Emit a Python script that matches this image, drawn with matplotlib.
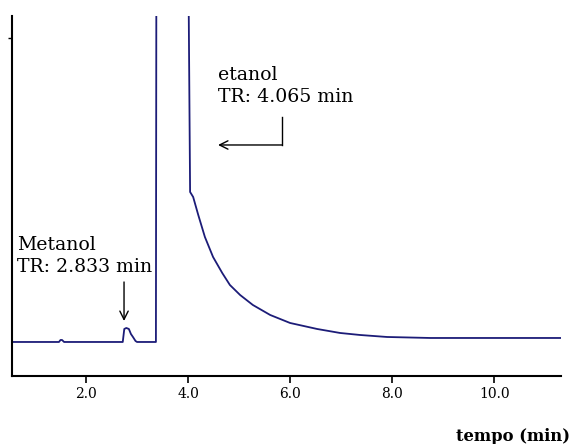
import matplotlib
matplotlib.use("Agg")
import matplotlib.pyplot as plt

# cromatograma: tempo (min) x sinal (unidades arbitrarias, linha de base = 0)
tempo = [0.55, 1.47, 1.50, 1.53, 1.57, 1.60, 2.72, 2.75, 2.79, 2.84, 2.88,
         2.92, 2.97, 3.00, 3.37, 3.38, 4.00, 4.04, 4.10, 4.20, 4.33, 4.49,
         4.67, 4.82, 5.02, 5.27, 5.61, 6.00, 6.53, 6.98, 7.37, 7.90, 8.75,
         11.31]
sinal = [0, 0, 2, 2, 0, 0, 0, 13, 14, 13, 8,
         5, 1, 0, 0, 420, 420, 150, 145, 127, 105, 85,
         69, 57, 47, 37, 27, 19, 13, 9, 7, 5, 4,
         4]

xticks = [2.0, 4.0, 6.0, 8.0, 10.0]
xlabels = ["2.0", "4.0", "6.0", "8.0", "10.0"]

plt.rcParams['font.family'] = ['DejaVu Serif']

fig = plt.figure(figsize=(5.71, 4.44), dpi=100)
ax = fig.add_axes([0.021, 0.1532, 0.9615, 0.8108])

ax.plot(tempo, sinal, color='#1c1c78', lw=1.3)

ax.set_xlim(0.549, 11.31)
ax.set_ylim(-34, 326)

ax.spines['top'].set_visible(False)
ax.spines['right'].set_visible(False)
ax.spines['left'].set_linewidth(1.5)
ax.spines['bottom'].set_linewidth(1.5)

ax.set_xticks(xticks)
ax.set_xticklabels(xlabels, fontsize=10)
ax.tick_params(axis='x', direction='out', length=5, width=1.2, pad=3)
ax.set_yticks([304])
ax.set_yticklabels([])
ax.tick_params(axis='y', direction='out', length=3, width=1)

# rotulos dos picos
ax.text(4.58, 256, "etanol\nTR: 4.065 min", fontsize=13.6, va='center',
        linespacing=1.25)
ax.plot([5.843, 5.843], [225, 197], color='black', lw=1)
ax.annotate("", xy=(4.588, 197), xytext=(5.843, 197),
            arrowprops=dict(arrowstyle='->', color='black', lw=1,
                            shrinkA=0, shrinkB=0, mutation_scale=15))

ax.text(0.64, 86, "Metanol\nTR: 2.833 min", fontsize=13.6, va='center',
        linespacing=1.25)
ax.annotate("", xy=(2.745, 21), xytext=(2.745, 60),
            arrowprops=dict(arrowstyle='->', color='black', lw=1,
                            shrinkA=0, shrinkB=0, mutation_scale=15))

fig.text(0.998, 0.016, "tempo (min)", ha='right', va='center',
         fontsize=11.8, fontweight='bold')

fig.savefig("out.png", dpi=100)
